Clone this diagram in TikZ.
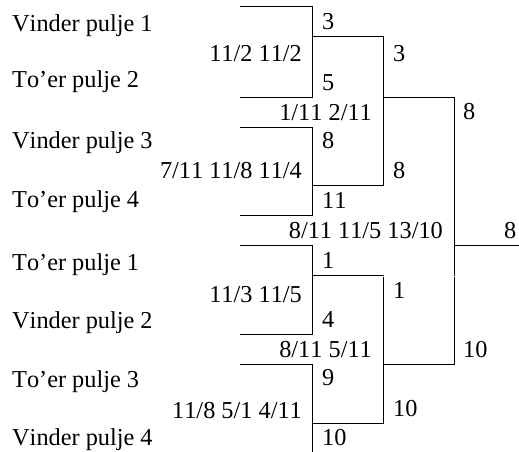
\documentclass[tikz,border=0pt]{standalone}
\usepackage{fontspec}
\setmainfont[Kerning=Off]{Liberation Serif}
\begin{document}
\begin{tikzpicture}[x=1pt,y=-1pt,
  txt/.style={inner sep=0pt,font=\fontsize{24.3}{29}\selectfont},
  lbl/.style={txt,anchor=base west},
  sc/.style={txt,anchor=base east},
  win/.style={txt,anchor=base west},
  br/.style={line width=1pt,line cap=rect}]
\useasboundingbox (0,0) rectangle (519,452);
% left labels
\node[lbl] (l1) at (12,32) {Vinder pulje 1};
\node[lbl] (l2) at (12,88) {To’er pulje 2};
\node[lbl] (l3) at (12,148) {Vinder pulje 3};
\node[lbl] (l4) at (12,207) {To’er pulje 4};
\node[lbl] (l5) at (12,270) {To’er pulje 1};
\node[lbl] (l6) at (12,328) {Vinder pulje 2};
\node[lbl] (l7) at (12,387) {To’er pulje 3};
\node[lbl] (l8) at (12,445) {Vinder pulje 4};
% round 1 scores
\node[sc] (s1) at (302,61) {11/2 11/2};
\node[sc] (s2) at (302,178) {7/11 11/8 11/4};
\node[sc] (s3) at (302,302) {11/3 11/5};
\node[sc] (s4) at (302,418) {11/8 5/1 4/11};
% round 2 scores
\node[sc] (s5) at (372,120) {1/11 2/11};
\node[sc] (s6) at (372,357) {8/11 5/11};
% final score
\node[sc] (s7) at (443,238) {8/11 11/5 13/10};
% round 1 entries
\node[win] (w1) at (322,30) {3};
\node[win] (w2) at (322,90) {5};
\node[win] (w3) at (322,148) {8};
\node[win] (w4) at (322,208) {11};
\node[win] (w5) at (322,268) {1};
\node[win] (w6) at (322,327) {4};
\node[win] (w7) at (322,385) {9};
\node[win] (w8) at (322,445) {10};
% round 2 entries
\node[win] (v1) at (393,61) {3};
\node[win] (v2) at (393,178) {8};
\node[win] (v3) at (393,298) {1};
\node[win] (v4) at (393,416) {10};
% round 3 entries
\node[win] (u1) at (463,119) {8};
\node[win] (u2) at (463,357) {10};
% champion
\node[win] (f) at (504,238) {8};
% bracket coordinates
\coordinate (a1) at (240,7);   \coordinate (b1) at (312,7);
\coordinate (a2) at (240,97);  \coordinate (b2) at (312,97);
\coordinate (a3) at (240,127); \coordinate (b3) at (312,127);
\coordinate (a4) at (240,215); \coordinate (b4) at (312,215);
\coordinate (a5) at (240,245); \coordinate (b5) at (312,245);
\coordinate (a6) at (240,334); \coordinate (b6) at (312,334);
\coordinate (a7) at (240,364); \coordinate (b7) at (312,364);
\coordinate (b8) at (312,452.5);
\coordinate (c1) at (312,37);  \coordinate (d1) at (383,37);
\coordinate (c2) at (312,185); \coordinate (d2) at (383,185);
\coordinate (c3) at (312,275); \coordinate (d3) at (383,275);
\coordinate (d3b) at (383,277);
\coordinate (c4) at (312,423); \coordinate (d4) at (383,423);
\coordinate (e1) at (383,97);  \coordinate (g1) at (454,97);
\coordinate (g2) at (454,275); \coordinate (g3) at (454,277);
\coordinate (e4) at (383,364); \coordinate (g4) at (454,364);
\coordinate (g5) at (454,245); \coordinate (h5) at (519,245);
% round 1 brackets
\draw[br] (a1) -- (b1) -- (b2) -- (a2);
\draw[br] (a3) -- (b3) -- (b4) -- (a4);
\draw[br] (a5) -- (b5) -- (b6) -- (a6);
\draw[br] (a7) -- (b7) -- (b8);
% round 2 brackets
\draw[br] (c1) -- (d1) -- (d2) -- (c2);
\draw[br] (c3) -- (d3);
\draw[br] (d3b) -- (d4) -- (c4);
% round 3 bracket
\draw[br] (e1) -- (g1) -- (g2);
\draw[br] (g3) -- (g4) -- (e4);
% final line
\draw[br] (g5) -- (h5);
\end{tikzpicture}
\end{document}
